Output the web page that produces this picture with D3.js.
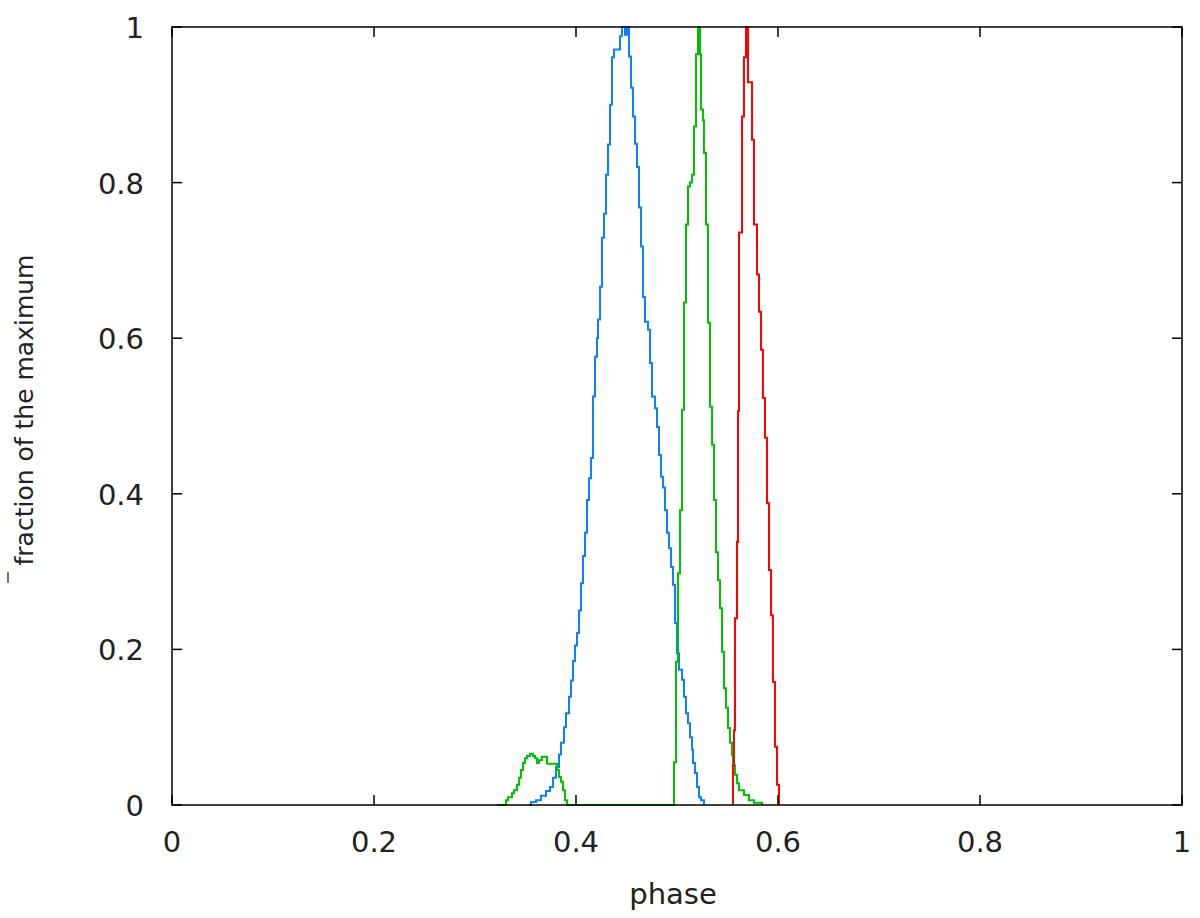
<!DOCTYPE html>
<html lang="en">
<head>
    <meta charset="UTF-8">
    <script src="https://cdnjs.cloudflare.com/ajax/libs/d3/7.8.5/d3.min.js"></script>
    <style>
        body { margin: 0; background: #fff; }
        text { font-family: "DejaVu Sans", sans-serif; fill: #222; }
    </style>
</head>
<body>
<div id="chart"></div>

<script>
    // tick labels
    var xTicks = [0, 0.2, 0.4, 0.6, 0.8, 1];
    var yTicks = [0, 0.2, 0.4, 0.6, 0.8, 1];

    // blue histogram (phase = left edge of bin, value)
    var bluePhase = [0.3535, 0.3554, 0.3604, 0.3653, 0.3703, 0.3743, 0.3772, 0.3802, 0.3832, 0.3851,
        0.3881, 0.3901, 0.3931, 0.3950, 0.3970, 0.3990, 0.4010, 0.4030, 0.4050, 0.4069,
        0.4089, 0.4109, 0.4129, 0.4149, 0.4168, 0.4188, 0.4208, 0.4218, 0.4238, 0.4257,
        0.4277, 0.4297, 0.4317, 0.4337, 0.4356, 0.4376, 0.4436, 0.4455, 0.4485, 0.4505,
        0.4525, 0.4545, 0.4564, 0.4584, 0.4604, 0.4624, 0.4644, 0.4663, 0.4683, 0.4713,
        0.4733, 0.4752, 0.4782, 0.4802, 0.4822, 0.4842, 0.4861, 0.4881, 0.4901, 0.4921,
        0.4941, 0.4960, 0.4980, 0.5000, 0.5020, 0.5050, 0.5069, 0.5089, 0.5109, 0.5129,
        0.5149, 0.5158, 0.5178, 0.5198, 0.5218, 0.5238, 0.5267];
    var blueValue = [0, 0.004, 0.006, 0.012, 0.018, 0.023, 0.035, 0.049, 0.065, 0.080,
        0.100, 0.118, 0.139, 0.160, 0.185, 0.205, 0.221, 0.250, 0.285, 0.320,
        0.350, 0.392, 0.420, 0.446, 0.525, 0.576, 0.600, 0.624, 0.666, 0.729,
        0.760, 0.810, 0.849, 0.900, 0.961, 0.971, 0.988, 1.000, 0.990, 1.000,
        0.962, 0.922, 0.885, 0.850, 0.820, 0.768, 0.718, 0.653, 0.621, 0.611,
        0.568, 0.525, 0.510, 0.486, 0.450, 0.422, 0.408, 0.379, 0.350, 0.330,
        0.306, 0.283, 0.234, 0.195, 0.174, 0.161, 0.139, 0.118, 0.105, 0.087,
        0.071, 0.054, 0.041, 0.023, 0.010, 0.006, 0];

    // green histogram
    var greenPhase = [0.3218, 0.3307, 0.3327, 0.3366, 0.3386, 0.3416, 0.3436, 0.3455, 0.3475, 0.3495,
        0.3515, 0.3545, 0.3574, 0.3594, 0.3614, 0.3634, 0.3663, 0.3693, 0.3713, 0.3812,
        0.3832, 0.3851, 0.3871, 0.3891, 0.3911, 0.4970, 0.4990, 0.5010, 0.5030, 0.5050,
        0.5069, 0.5089, 0.5109, 0.5129, 0.5149, 0.5168, 0.5188, 0.5208, 0.5228, 0.5238,
        0.5257, 0.5267, 0.5287, 0.5307, 0.5327, 0.5347, 0.5366, 0.5386, 0.5406, 0.5426,
        0.5446, 0.5465, 0.5485, 0.5505, 0.5525, 0.5545, 0.5554, 0.5574, 0.5594, 0.5614,
        0.5663, 0.5713, 0.5762, 0.5842];
    var greenValue = [0, 0.006, 0.010, 0.015, 0.019, 0.026, 0.035, 0.045, 0.054, 0.060,
        0.063, 0.066, 0.063, 0.060, 0.054, 0.058, 0.062, 0.062, 0.053, 0.045,
        0.036, 0.030, 0.019, 0.006, 0, 0.055, 0.184, 0.298, 0.379, 0.508,
        0.646, 0.746, 0.795, 0.800, 0.810, 0.872, 0.965, 1.000, 0.965, 0.894,
        0.880, 0.838, 0.746, 0.620, 0.512, 0.463, 0.392, 0.325, 0.289, 0.253,
        0.197, 0.150, 0.125, 0.099, 0.080, 0.064, 0.051, 0.039, 0.028, 0.019,
        0.013, 0.006, 0.003, 0];

    // red histogram
    var redPhase = [0.5554, 0.5564, 0.5574, 0.5594, 0.5604, 0.5614, 0.5644, 0.5663, 0.5683, 0.5703,
        0.5743, 0.5762, 0.5792, 0.5812, 0.5832, 0.5851, 0.5871, 0.5891, 0.5911, 0.5931,
        0.5950, 0.5970, 0.5990, 0.6010];
    var redValue = [0.051, 0.096, 0.240, 0.338, 0.506, 0.736, 0.885, 0.961, 1.000, 0.929,
        0.855, 0.746, 0.682, 0.634, 0.585, 0.523, 0.472, 0.388, 0.302, 0.244,
        0.158, 0.075, 0.026, 0];

    var width = 1200, height = 918;
    var margin = {left: 172, right: 18, top: 27, bottom: 113};

    var svg = d3.select("#chart").append("svg")
        .attr("width", width)
        .attr("height", height);

    var x = d3.scaleLinear().domain([0, 1]).range([margin.left, width - margin.right]);
    var y = d3.scaleLinear().domain([0, 1]).range([height - margin.bottom, margin.top]);

    // curves
    var line = d3.line()
        .x(function (d) { return x(d[0]); })
        .y(function (d) { return y(d[1]); })
        .curve(d3.curveStepAfter);

    function drawSeries(phase, value, color, startAtZero) {
        var pts = phase.map(function (p, i) { return [p, value[i]]; });
        if (startAtZero) pts.unshift([phase[0], 0]);
        svg.append("path")
            .datum(pts)
            .attr("d", line)
            .attr("fill", "none")
            .attr("stroke", color)
            .attr("stroke-width", 2);
    }

    drawSeries(bluePhase, blueValue, "#0a80ff", false);
    drawSeries(greenPhase, greenValue, "#00c000", false);
    drawSeries(redPhase, redValue, "#ff0000", true);

    // frame with inward mirrored ticks
    var tickLen = 10;
    var axes = svg.append("g").attr("stroke", "#000").attr("stroke-width", 1.5);

    axes.append("rect")
        .attr("x", x(0)).attr("y", y(1))
        .attr("width", x(1) - x(0)).attr("height", y(0) - y(1))
        .attr("fill", "none");

    xTicks.forEach(function (t) {
        axes.append("line").attr("x1", x(t)).attr("x2", x(t)).attr("y1", y(0)).attr("y2", y(0) - tickLen);
        axes.append("line").attr("x1", x(t)).attr("x2", x(t)).attr("y1", y(1)).attr("y2", y(1) + tickLen);
    });
    yTicks.forEach(function (t) {
        axes.append("line").attr("x1", x(0)).attr("x2", x(0) + tickLen).attr("y1", y(t)).attr("y2", y(t));
        axes.append("line").attr("x1", x(1)).attr("x2", x(1) - tickLen).attr("y1", y(t)).attr("y2", y(t));
    });

    var fmt = function (d) { return d === 0 || d === 1 ? String(d) : d.toFixed(1); };

    svg.append("g").selectAll("text").data(xTicks).enter().append("text")
        .attr("x", function (d) { return x(d); })
        .attr("y", y(0) + 47)
        .attr("text-anchor", "middle")
        .style("font-size", "29px")
        .text(fmt);

    svg.append("g").selectAll("text").data(yTicks).enter().append("text")
        .attr("x", x(0) - 28)
        .attr("y", function (d) { return y(d) + 11; })
        .attr("text-anchor", "end")
        .style("font-size", "29px")
        .text(fmt);

    // axis titles
    svg.append("text")
        .attr("x", 673)
        .attr("y", 904)
        .attr("text-anchor", "middle")
        .style("font-size", "29px")
        .text("phase");

    svg.append("text")
        .attr("transform", "translate(33,410) rotate(-90)")
        .attr("text-anchor", "middle")
        .style("font-size", "25px")
        .text("fraction of the maximum");

    svg.append("line")
        .attr("x1", 8).attr("x2", 8).attr("y1", 572).attr("y2", 583)
        .attr("stroke", "#444").attr("stroke-width", 1.5);
</script>
</body>
</html>
